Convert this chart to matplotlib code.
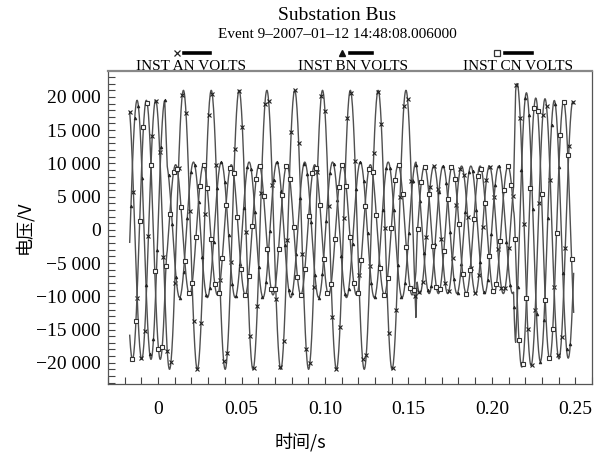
import numpy as np
import matplotlib
matplotlib.use("Agg")
import matplotlib.pyplot as plt
from matplotlib.lines import Line2D
from matplotlib.ticker import FixedLocator, MultipleLocator, FuncFormatter

plt.rcParams['font.family'] = ['Liberation Serif', 'Noto Sans CJK SC']
plt.rcParams['axes.unicode_minus'] = True

# --- values ---
freq = 60.0
t_first, t_last = -0.017, 0.249
a_peak_time = 0.0152          # time of a phase-A crest during the fault
seg_edges = [-0.017, 0.004, 0.1545, 0.213, 0.249]   # pre-fault / fault / cleared / recovery
seg_blend = [0.0015, 0.0006, 0.0012]                  # transition widths at the inner edges
an_amp = [19500, 21000, 9600, 19200]
bn_amp = [19500, 10200, 9600, 19200]
cn_amp = [19500, 9800, 9600, 19200]
an_lag = [0, 0, 0, 0]          # degrees behind phase A reference
bn_lag = [120, 130, 120, 120]
cn_lag = [240, 259, 240, 240]
recovery_overshoot = [3500, 3100, 2400]   # extra crest right after recovery
recovery_tau = 0.01

labels = ['INST AN VOLTS', 'INST BN VOLTS', 'INST CN VOLTS']
x_ticks = [0, 0.05, 0.10, 0.15, 0.20, 0.25]
x_tick_labels = ['0', '0.05', '0.10', '0.15', '0.20', '0.25']
y_ticks = [-20000, -15000, -10000, -5000, 0, 5000, 10000, 15000, 20000]

dt = 0.00025
t = np.arange(t_first, t_last + dt / 2, dt)
w = 2 * np.pi * freq


def phase_wave(amps, lags, k):
    segs = []
    for i in range(4):
        amp = amps[i]
        if i == 3:
            amp = amp + recovery_overshoot[k] * np.exp(-np.clip(t - seg_edges[3], 0, None) / recovery_tau)
        segs.append(amp * np.cos(w * (t - a_peak_time) - np.deg2rad(lags[i])))
    y = segs[0]
    for i in range(1, 4):
        e, b = seg_edges[i], seg_blend[i - 1]
        m = np.clip((t - e) / b, 0, 1)
        y = y * (1 - m) + segs[i] * m
    return y


waves = [phase_wave(an_amp, an_lag, 0), phase_wave(bn_amp, bn_lag, 1), phase_wave(cn_amp, cn_lag, 2)]

fig = plt.figure(figsize=(6.0, 4.61), dpi=100)
ax = fig.add_axes([108 / 600, 77 / 461, 484 / 600, 313 / 461])

line_col = '#505050'
mk = [dict(marker='x', ms=3.0, mew=0.8, mec='#222222'),
      dict(marker='^', ms=2.0, mew=0.5, mec='#222222', mfc='#222222'),
      dict(marker='s', ms=3.3, mew=0.8, mec='#333333', mfc='white')]
for k in range(3):
    ax.plot(t, waves[k], color=line_col, lw=1.0, markevery=(3 * k, 9), **mk[k])

ax.set_xlim(-0.030, 0.260)
ax.set_ylim(-23200, 23900)

ax.xaxis.set_major_locator(FixedLocator(x_ticks))
ax.set_xticklabels(x_tick_labels)
ax.xaxis.set_minor_locator(MultipleLocator(0.01))
ax.yaxis.set_major_locator(FixedLocator(y_ticks))
ax.yaxis.set_minor_locator(MultipleLocator(1000))
ax.yaxis.set_major_formatter(FuncFormatter(
    lambda v, p: ('−' if v < 0 else '') + f"{abs(v):,.0f}".replace(',', ' ')))

ax.tick_params(axis='both', which='both', direction='in', length=5, width=0.8,
               color='#444444', labelsize=14, top=False, right=False)
ax.tick_params(axis='x', which='major', pad=12)
ax.tick_params(axis='y', which='major', pad=5)
for s in ax.spines.values():
    s.set_color('#555555')
    s.set_linewidth(0.9)
ax.spines['top'].set_linewidth(1.6)
ax.spines['top'].set_color('#888888')

ax.set_ylabel('电压/V', fontsize=13, family=['Noto Sans CJK SC'])
ax.yaxis.set_label_coords(-0.155, 0.5)
ax.set_xlabel('时间/s', fontsize=13, family=['Noto Sans CJK SC'])
ax.xaxis.set_label_coords(0.397, -0.155)

fig.text(337 / 600, 1 - 15 / 461, 'Substation Bus', ha='center', va='center', fontsize=14)
fig.text(337 / 600, 1 - 35 / 461, 'Event 9–2007–01–12 14:48:08.006000',
         ha='center', va='center', fontsize=11)

# legend row above the plot
leg = [(177, 184, 210, 191), (342, 350, 372, 353), (497, 505, 532, 518)]
leg_mk = [dict(marker='x', ms=4, mew=0.9, color='#222222'),
          dict(marker='^', ms=4, color='#111111'),
          dict(marker='s', ms=4.5, mfc='white', mec='#333333', mew=0.9)]
for k, (mx, l0, l1, tx) in enumerate(leg):
    fy = 1 - 53 / 461
    fig.add_artist(Line2D([mx / 600], [fy], linestyle='none', transform=fig.transFigure, **leg_mk[k]))
    fig.add_artist(Line2D([l0 / 600, l1 / 600], [fy, fy], color='black', lw=2.6,
                          transform=fig.transFigure))
    fig.text(tx / 600, 1 - 66 / 461, labels[k], ha='center', va='center', fontsize=11)

fig.savefig('out.png', dpi=100)
